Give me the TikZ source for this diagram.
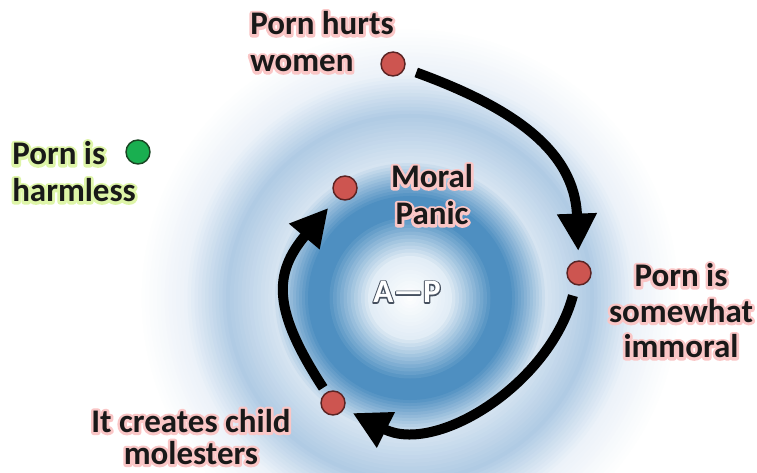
\documentclass[tikz,border=0pt]{standalone}
\usepackage{fontspec}
\setmainfont{Carlito}
\newfontfamily\halofont[FakeBold=16]{Carlito}
\newfontfamily\apfont[FakeBold=7]{Carlito}
\usetikzlibrary{arrows.meta}

\definecolor{dotred}{RGB}{205,85,80}
\definecolor{dotline}{RGB}{90,35,35}
\definecolor{dotgreen}{RGB}{25,175,80}
\definecolor{greenline}{RGB}{25,70,35}
\definecolor{glowpink}{RGB}{250,198,198}
\definecolor{glowlime}{RGB}{222,245,168}
\definecolor{apglow}{RGB}{70,80,95}
\definecolor{inktext}{RGB}{25,25,25}
\definecolor{swirlpale}{RGB}{226,237,246}
\definecolor{swirldeep}{RGB}{78,143,193}
\definecolor{swirllight}{RGB}{214,228,241}
\definecolor{swirlmid}{RGB}{176,203,228}
\definecolor{swirlfade}{RGB}{236,242,249}

% glow: a stroked copy of the text under the text itself
\newcommand{\halo}[2]{\leavevmode\special{pdf:literal direct 1 j}\rlap{\halofont\bfseries\color{#1}#2}#2}
\newcommand{\pinkglow}[1]{\halo{glowpink}{#1}}
\newcommand{\limeglow}[1]{\halo{glowlime}{#1}}

\begin{document}
\begin{tikzpicture}[x=0.75pt, y=0.75pt, text=inktext,
    font=\bfseries\fontsize{24.75}{27.75}\selectfont,
    dot/.style={circle, draw=dotline, line width=1.1pt, minimum size=18pt, inner sep=0pt},
    bad/.style={dot, fill=dotred},
    good/.style={dot, fill=dotgreen, draw=greenline},
    lbl/.style={inner sep=0pt, align=center},
    flow/.style={line width=7.5pt, -{Triangle[length=28pt, width=28pt]}}]
  \useasboundingbox (0,0) rectangle (757,472);
  \fill[white] (0,0) rectangle (757,472);
  % blurred blue swirl behind the cycle, ring by ring from the outside in
  \foreach \ro/\ri/\co/\ci in {272/226/white/swirlfade, 226/184/swirlfade/swirlmid,
      184/138/swirlmid/swirllight, 138/102/swirllight/swirldeep, 102/84/swirldeep/swirldeep,
      84/42/swirldeep/swirlpale, 42/0/swirlpale/white}
    \foreach \k in {0,...,11} {
      \pgfmathsetmacro\rr{\ro-(\ro-\ri)*\k/12}
      \pgfmathsetmacro\pc{100*\k/12}
      \fill[\ci!\pc!\co] (410,174) circle (\rr);
    }

  \node[bad] (hurts) at (393,408) {};
  \node[good] (harmless) at (138,320) {};
  \node[bad] (moral) at (345,284) {};
  \node[bad] (immoral) at (579,199) {};
  \node[bad] (molest) at (333,69) {};

  \node[lbl, align=left, anchor=west] (hurtslbl) at (250,430) {\pinkglow{Porn hurts}\\\pinkglow{women}};
  \node[lbl, align=left, anchor=west] (harmlesslbl) at (12,300) {\limeglow{Porn is}\\\limeglow{harmless}};
  \node[lbl] (morallbl) at (432,277) {\pinkglow{Moral}\\\pinkglow{Panic}};
  \node[lbl, font=\bfseries\fontsize{24.75}{26.6}\selectfont] (immorallbl) at (681,161) {\pinkglow{Porn is}\\\pinkglow{somewhat}\\\pinkglow{immoral}};
  \node[lbl, font=\bfseries\fontsize{24.75}{24}\selectfont] (molestlbl) at (191,35) {\pinkglow{It creates child}\\\pinkglow{molesters}};
  \node[lbl, text=white] (ap) at (407,180) {\leavevmode\special{pdf:literal direct 1 j}\rlap{\apfont\bfseries\color{apglow}A—P}A—P};

  % the cycle
  \draw[flow, shorten <=9pt, shorten >=7pt] (hurts) to[out=-20, in=92, looseness=1.1] (immoral);
  \draw[flow, shorten <=8pt, shorten >=7pt] (immoral) to[out=-105, in=-27, looseness=1.0] (molest);
  \draw[flow, shorten <=4pt, shorten >=10pt] (molest) to[out=123, in=230, looseness=1.3] (moral);
\end{tikzpicture}
\end{document}
